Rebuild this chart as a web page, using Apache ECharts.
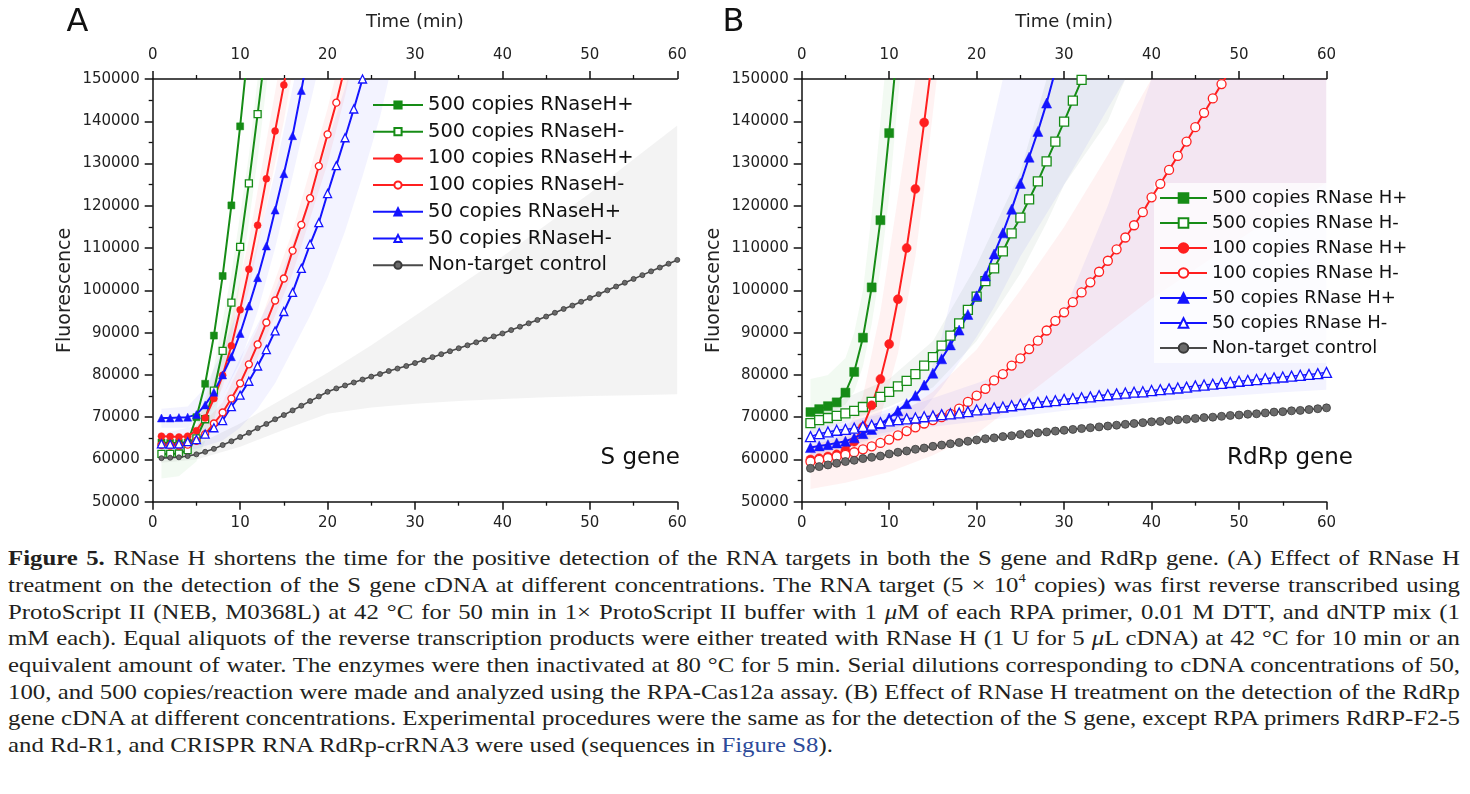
<!DOCTYPE html>
<html><head><meta charset="utf-8">
<script src="https://cdn.jsdelivr.net/npm/echarts@6/dist/echarts.min.js"></script>
<style>
html,body{margin:0;padding:0;background:#fff;}
#chart{position:absolute;left:0;top:0;width:1470px;height:545px;}
#caption{position:absolute;left:8px;top:0;width:1452px;font-family:'Liberation Serif','Times New Roman',serif;font-size:22px;color:#231f20;}
.cl{position:absolute;left:0;white-space:nowrap;line-height:26px;height:26px;transform-origin:0 50%;}
.lk{color:#2c4a9a;}
</style></head><body>
<div id="chart"></div>
<div id="caption"></div>
<script>
// ---------- data ----------
const minutes = [1,2,3,4,5,6,7,8,9,10,11,12,13,14,15,16,17,18,19,20,21,22,23,24,25,26,27,28,29,30,
  31,32,33,34,35,36,37,38,39,40,41,42,43,44,45,46,47,48,49,50,51,52,53,54,55,56,57,58,59,60];
const xTicks = [0,10,20,30,40,50,60];
const yTicks = [50000,60000,70000,80000,90000,100000,110000,120000,130000,140000,150000];

const namesA = ['500 copies RNaseH+','500 copies RNaseH-','100 copies RNaseH+','100 copies RNaseH-','50 copies RNaseH+','50 copies RNaseH-','Non-target control'];
const namesB = ['500 copies RNase H+','500 copies RNase H-','100 copies RNase H+','100 copies RNase H-','50 copies RNase H+','50 copies RNase H-','Non-target control'];

// Panel A (S gene)
const A_500p = [64000,63900,63900,64000,70000,77900,89300,103400,120100,138800,159000];
const A_500m = [61300,61300,61400,62200,65000,69500,76300,85700,97100,110300,125300,141700,158500];
const A_100p = [65500,65400,65300,65500,66800,69800,74400,79900,86900,95400,105000,115400,126400,137700,148600,160500];
const A_100m = [63400,63300,63300,63500,64400,66000,68500,71100,74400,78000,82500,87200,92400,97600,102800,109400,115500,121800,129400,136900,144400,153000];
const A_50p  = [69800,69800,69900,70000,70600,72900,75900,80000,84300,89800,96300,103000,110500,119000,127600,136600,147300,158500];
const A_50m  = [63700,63600,63700,64200,64700,66000,67500,69200,72500,75200,78500,82100,86000,90400,95000,99500,105200,110900,116000,122900,129500,136100,142900,150000,157000];
const A_ntc  = [60300,60400,60500,60800,61200,61800,62500,63400,64300,65300,66300,67400,68400,69500,70500,71600,72700,73800,74900,76000,
  76800,77500,78200,78900,79600,80200,80900,81500,82100,82800,83500,84200,84900,85600,86300,87000,87700,88400,89100,89800,
  90600,91400,92200,93000,93800,94700,95600,96400,97300,98200,99100,100000,100900,101800,102700,103600,104500,105400,106300,107200];

// Panel B (RdRp gene)
const B_500p = [71200,71900,72600,73500,75800,80700,88800,100700,116600,137200,159000];
const B_500m = [68600,69300,69800,70300,70900,71500,72400,73600,74800,76000,77300,78600,80200,82200,84200,86900,89300,92200,95400,98500,
  102200,105200,109200,113500,117200,121500,125800,130500,135200,139900,144900,149800,155000];
const B_100p = [60000,60300,60700,61200,62200,64200,67700,72800,79000,87300,97900,110000,124000,139700,156000];
const B_100m = [59500,59900,60300,60700,61100,61700,62400,63100,63900,64700,65700,66700,67600,68500,69300,70000,70800,72000,73600,75100,
  76700,78700,80200,82200,83900,86100,88100,90500,92800,94800,97200,99500,101900,104400,107000,109700,112500,115400,118500,122000,
  125200,128500,131800,135200,138600,142000,145400,148800,152200];
const B_50p  = [62800,63200,63500,63900,64300,65100,66100,67100,68400,69800,71500,73200,75100,77600,80400,83800,87100,90600,94300,98700,
  103400,108600,113600,119200,125300,131500,137600,144300,152000];
const B_50m  = [65400,66100,66500,66900,67100,67400,67800,68100,68700,69100,69400,69600,69800,70100,70300,70600,70800,71000,71300,71700,
  71900,72200,72400,72700,73000,73200,73500,73700,73900,74200,74400,74600,74800,75100,75300,75500,75700,75900,76000,76300,
  76500,76700,76900,77100,77400,77600,77800,78000,78200,78500,78700,78900,79100,79300,79500,79700,79900,80100,80300,80600];
const B_ntc  = [57900,58300,58700,59100,59500,59800,60200,60500,60800,61300,61700,62000,62400,62700,63100,63400,63700,64000,64300,64600,
  64900,65100,65400,65600,65900,66100,66300,66500,66700,66900,67100,67300,67500,67700,67900,68100,68300,68500,68700,68900,
  69000,69200,69400,69500,69700,69900,70000,70200,70400,70500,70700,70800,71000,71200,71300,71500,71600,71800,72000,72200];

// shaded ranges [minute, lower, upper]
const bandA_ntc  = [[1,59200,61500],[5,60000,63500],[10,63000,68500],[15,67000,74500],[20,70800,80500],[25,72300,87000],[30,73200,94000],[35,73800,101000],[40,74300,108000],[45,74700,115500],[50,75000,123000],[55,75200,131000],[60,75400,139000]];
const bandA_500m = [[1,55500,63000],[3,56000,63500],[5,59500,67000],[7,69000,82000],[9,88000,104000],[11,116000,132000],[12,131000,150000],[13,148000,168000],[14,166000,186000]];
const bandA_50p  = [[1,67500,72000],[4,67500,72500],[6,70000,77000],[8,75000,86000],[10,83000,97000],[12,95000,111000],[14,110000,128000],[16,127000,148000],[17,136000,158000],[18,144000,168000],[19,153000,178000]];
const bandA_50m  = [[1,61500,66000],[5,62500,68000],[8,64500,75000],[10,67500,84000],[12,72000,92000],[14,78000,100000],[16,86000,111000],[18,94000,122000],[20,103000,135000],[22,114000,148000],[24,127000,162000],[26,141000,176000],[27,150000,184000],[28,158000,192000]];
const bandA_100m = [[4,62500,64500],[8,69500,73500],[12,84000,91000],[16,104000,114000],[20,130000,143000],[22,146000,160000],[23,155000,170000]];
const bandA_100p = [[5,65500,68500],[8,77000,84000],[11,100000,112000],[14,130000,147000],[15,140000,158000],[16,152000,170000]];

const bandB_500p = [[1,69500,79000],[3,70500,80000],[5,73000,84000],[6,76000,90000],[7,82000,100000],[8,92000,118000],[9,105000,140000],[10,122000,162000],[11,145000,185000],[12,165000,205000]];
const bandB_100p = [[1,57500,63000],[5,58500,66000],[7,62000,75000],[9,70000,95000],[11,85000,122000],[13,108000,150000],[14,124000,170000],[15,142000,190000],[16,160000,210000]];
const bandB_100m = [[1,53000,63500],[5,54500,65000],[10,57000,69000],[15,61000,76000],[20,66000,86000],[25,74000,100000],[30,82000,115000],[35,90000,132000],[40,98000,150000],[45,105000,165000],[50,112000,180000],[55,119000,190000],[60,125500,200000]];
const bandB_500m = [[1,66000,71000],[10,72500,79000],[15,77000,88000],[20,88000,106000],[25,104000,128000],[28,116000,150000],[30,125000,162000],[35,140000,185000],[37,150000,195000],[38,156000,200000]];
const bandB_50p  = [[1,60500,65500],[10,66000,72000],[14,72000,76000],[16,77000,89000],[18,83000,106000],[20,89000,123000],[22,96000,141000],[23,100000,150000],[25,108000,166000],[30,125000,200000],[35,143000,220000],[37,150000,230000],[38,155000,235000]];
const bandB_50m  = [[1,63500,67500],[10,66500,71000],[20,69000,78000],[24,70000,81000],[30,71500,95000],[35,72500,120000],[40,73500,150000],[45,74500,170000],[50,75200,180000],[55,75900,190000],[60,76500,200000]];

const captionLines = [
 '<b>Figure 5.</b> RNase H shortens the time for the positive detection of the RNA targets in both the S gene and RdRp gene. (A) Effect of RNase H',
 'treatment on the detection of the S gene cDNA at different concentrations. The RNA target (5 × 10<sup style="font-size:13px;vertical-align:10px;line-height:0">4</sup> copies) was first reverse transcribed using',
 'ProtoScript II (NEB, M0368L) at 42 °C for 50 min in 1× ProtoScript II buffer with 1 <i>μ</i>M of each RPA primer, 0.01 M DTT, and dNTP mix (1',
 'mM each). Equal aliquots of the reverse transcription products were either treated with RNase H (1 U for 5 <i>μ</i>L cDNA) at 42 °C for 10 min or an',
 'equivalent amount of water. The enzymes were then inactivated at 80 °C for 5 min. Serial dilutions corresponding to cDNA concentrations of 50,',
 '100, and 500 copies/reaction were made and analyzed using the RPA-Cas12a assay. (B) Effect of RNase H treatment on the detection of the RdRp',
 'gene cDNA at different concentrations. Experimental procedures were the same as for the detection of the S gene, except RPA primers RdRP-F2-5',
 'and Rd-R1, and CRISPR RNA RdRp-crRNA3 were used (sequences in <span class="lk">Figure S8</span>).'
];
const captionCenters = [558,585,611.5,638,665,691.5,718,745];
const captionFullWidth = 1452;

// ---------- caption ----------
const cap = document.getElementById('caption');
const lineDivs = captionLines.map((html, i) => {
  const d = document.createElement('div');
  d.className = 'cl';
  d.style.top = (captionCenters[i] - 13) + 'px';
  d.innerHTML = html;
  cap.appendChild(d);
  return d;
});
// the printed caption is horizontally stretched: use the largest uniform stretch that keeps every full line within the width
const widths = lineDivs.map(d => d.getBoundingClientRect().width);
let sx = Infinity;
for (let i = 0; i < widths.length - 1; i++) sx = Math.min(sx, captionFullWidth / widths[i]);
lineDivs.forEach((d, i) => {
  if (i < lineDivs.length - 1) {
    const spaces = (d.textContent.match(/ /g) || []).length;
    d.style.wordSpacing = ((captionFullWidth / sx - widths[i]) / spaces) + 'px';
  }
  d.style.transform = 'scaleX(' + sx + ')';
});

// ---------- chart ----------
const FONT = 'DejaVu Sans';
const GREEN = '#168c16', RED = '#ff1f1f', BLUE = '#1414ff', GRAY = '#4a4a4a';

function xAx(grid, pos) {
  return {
    type: 'value', gridIndex: grid, position: pos, min: xTicks[0], max: xTicks[xTicks.length - 1], interval: xTicks[1] - xTicks[0],
    axisLine: { show: true, onZero: false, lineStyle: { color: '#111', width: 1.5 } },
    axisTick: { show: true, inside: false, length: 8, lineStyle: { color: '#111', width: 1.5 } },
    minorTick: { show: true, splitNumber: 2, length: 4, lineStyle: { color: '#111', width: 1.3 } },
    splitLine: { show: false },
    axisLabel: { fontFamily: FONT, fontSize: 15, color: '#222', margin: pos === 'top' ? 16 : 14 },
    name: pos === 'top' ? 'Time (min)' : '', nameLocation: 'middle', nameGap: 48,
    nameTextStyle: { fontFamily: FONT, fontSize: 18, color: '#222' }
  };
}
function yAx(grid) {
  return {
    type: 'value', gridIndex: grid, min: yTicks[0], max: yTicks[yTicks.length - 1], interval: yTicks[1] - yTicks[0],
    axisLine: { show: true, onZero: false, lineStyle: { color: '#111', width: 1.5 } },
    axisTick: { show: true, inside: false, length: 8, lineStyle: { color: '#111', width: 1.5 } },
    minorTick: { show: true, splitNumber: 2, length: 4, lineStyle: { color: '#111', width: 1.3 } },
    splitLine: { show: false },
    axisLabel: { fontFamily: FONT, fontSize: 15, color: '#222', margin: 13, formatter: v => String(v) },
    name: 'Fluorescence', nameLocation: 'middle', nameGap: 78, nameRotate: 90,
    nameTextStyle: { fontFamily: FONT, fontSize: 19, color: '#222' }
  };
}
function pts(vals) { return vals.map((v, i) => [minutes[i], v]); }
function line(name, xi, yi, vals, color, symbol, size, filled, lw) {
  return {
    name, type: 'line', xAxisIndex: xi, yAxisIndex: yi, data: pts(vals), clip: true, z: 5,
    symbol, symbolSize: size, showSymbol: true, showAllSymbol: true, animation: false,
    lineStyle: { color, width: lw || 2 },
    itemStyle: filled ? { color, borderColor: color, borderWidth: 0.5 } : { color: '#ffffff', borderColor: color, borderWidth: 1.3 },
    emphasis: { disabled: true }
  };
}
function ntc(name, xi, yi, vals, size) {
  return {
    name, type: 'line', xAxisIndex: xi, yAxisIndex: yi, data: pts(vals), clip: true, z: 6,
    symbol: 'circle', symbolSize: size, showAllSymbol: true, animation: false,
    lineStyle: { color: GRAY, width: 1.6 },
    itemStyle: { color: '#6a6a6a', borderColor: '#3a3a3a', borderWidth: 0.8 },
    emphasis: { disabled: true }
  };
}
function band(xi, yi, bpts, fill) {
  return {
    type: 'custom', xAxisIndex: xi, yAxisIndex: yi, data: [[bpts[0][0], bpts[0][1]]], silent: true, z: 1, animation: false,
    renderItem: (params, api) => {
      const lo = bpts.map(p => api.coord([p[0], p[1]]));
      const hi = bpts.map(p => api.coord([p[0], p[2]])).reverse();
      const cs = params.coordSys;
      return {
        type: 'polygon', shape: { points: lo.concat(hi) }, style: { fill, stroke: null },
        clipPath: { type: 'rect', shape: { x: cs.x, y: cs.y, width: cs.width, height: cs.height } }
      };
    }
  };
}

const LAV = 'rgba(80,80,255,0.07)', PINK = 'rgba(255,70,70,0.07)', GRN = 'rgba(0,150,0,0.05)', GRY = 'rgba(120,120,120,0.09)', GGR = 'rgba(70,110,90,0.07)';

const option = {
  animation: false,
  backgroundColor: '#ffffff',
  grid: [
    { left: 152.7, top: 79, width: 524.6, height: 422.7 },
    { left: 801.7, top: 79, width: 524.8, height: 422.7 }
  ],
  xAxis: [xAx(0, 'bottom'), xAx(0, 'top'), xAx(1, 'bottom'), xAx(1, 'top')],
  yAxis: [yAx(0), yAx(1)],
  legend: [
    { data: namesA, orient: 'vertical', left: 372, top: 95, padding: 0, itemWidth: 50, itemHeight: 9, itemGap: 6.7,
      selectedMode: false, textStyle: { fontFamily: FONT, fontSize: 19.5, color: '#111', lineHeight: 20 } },
    { data: namesB, orient: 'vertical', left: 1154, top: 183, padding: [5, 8, 5, 5], itemWidth: 47, itemHeight: 12, itemGap: 5,
      backgroundColor: 'rgba(255,255,255,0.75)',
      selectedMode: false, textStyle: { fontFamily: FONT, fontSize: 18, color: '#111', lineHeight: 20 } }
  ],
  graphic: [
    { type: 'text', x: 77.5, y: 23, style: { text: 'A', fontFamily: FONT, fontSize: 32, fill: '#111', align: 'center', verticalAlign: 'middle' } },
    { type: 'text', x: 733.5, y: 23, style: { text: 'B', fontFamily: FONT, fontSize: 32, fill: '#111', align: 'center', verticalAlign: 'middle' } },
    { type: 'text', x: 680, y: 458, style: { text: 'S gene', fontFamily: FONT, fontSize: 23, fill: '#111', align: 'right', verticalAlign: 'middle' } },
    { type: 'text', x: 1353, y: 458, style: { text: 'RdRp gene', fontFamily: FONT, fontSize: 23, fill: '#111', align: 'right', verticalAlign: 'middle' } }
  ],
  series: [
    band(0, 0, bandA_ntc, GRY),
    band(0, 0, bandA_500m, GRN),
    band(0, 0, bandA_50p, LAV),
    band(0, 0, bandA_50m, LAV),
    band(0, 0, bandA_100m, PINK),
    band(0, 0, bandA_100p, PINK),
    line(namesA[0], 0, 0, A_500p, GREEN, 'rect', 7, true),
    line(namesA[1], 0, 0, A_500m, GREEN, 'rect', 7, false),
    line(namesA[2], 0, 0, A_100p, RED, 'circle', 7, true),
    line(namesA[3], 0, 0, A_100m, RED, 'circle', 7, false),
    line(namesA[4], 0, 0, A_50p, BLUE, 'triangle', 8, true),
    line(namesA[5], 0, 0, A_50m, BLUE, 'triangle', 8, false),
    ntc(namesA[6], 0, 0, A_ntc, 5),

    band(2, 1, bandB_50m, LAV),
    band(2, 1, bandB_50p, LAV),
    band(2, 1, bandB_500m, GGR),
    band(2, 1, bandB_100m, PINK),
    band(2, 1, bandB_500p, GRN),
    band(2, 1, bandB_100p, PINK),
    line(namesB[0], 2, 1, B_500p, GREEN, 'rect', 9, true),
    line(namesB[1], 2, 1, B_500m, GREEN, 'rect', 9, false),
    line(namesB[2], 2, 1, B_100p, RED, 'circle', 9, true),
    line(namesB[3], 2, 1, B_100m, RED, 'circle', 9, false),
    line(namesB[4], 2, 1, B_50p, BLUE, 'triangle', 10, true),
    line(namesB[5], 2, 1, B_50m, BLUE, 'triangle', 10, false, 1.5),
    ntc(namesB[6], 2, 1, B_ntc, 8)
  ]
};
const chart = echarts.init(document.getElementById('chart'), null, { renderer: 'canvas' });
chart.setOption(option);
</script>
</body></html>
